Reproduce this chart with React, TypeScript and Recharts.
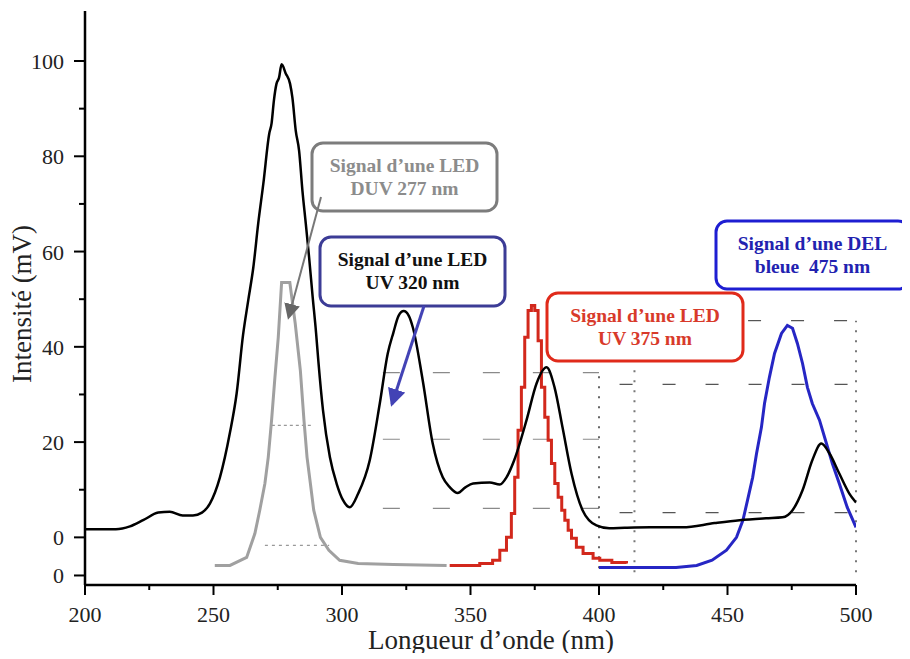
import { LineChart, Line, XAxis, YAxis, ReferenceLine } from "recharts";

const FONT = "'Liberation Serif', 'DejaVu Serif', serif";

// main absorption spectrum (black)
const mainX = [200, 212, 217.5, 222.6, 228.5, 233, 238, 242, 245.5, 248.6, 252.5, 256.4, 259, 261.5, 263.5, 265.5, 267.4, 269.4, 271.7, 272.6, 273.5, 274.5, 275.5, 276.5, 278.1, 279.8, 280.7, 282, 283.3, 284.6, 285.9, 287.2, 288.6, 289.9, 290.8, 292.6, 295.3, 297.9, 300.4, 303, 306.3, 310.8, 314.7, 317.8, 320, 322, 324, 326, 327.6, 331.4, 335.3, 339.2, 342, 345, 348, 351, 357.5, 361.4, 364, 367, 371.8, 375.7, 379.6, 382.7, 385.8, 389.3, 393.6, 399, 404, 410, 420, 432.5, 445, 454.7, 465, 471.4, 475.3, 479.2, 483, 486.5, 489.7, 493.5, 497.4, 500];
const mainY = [1.7, 1.7, 2.3, 3.6, 5.2, 5.4, 4.6, 4.6, 5.2, 7.1, 12.6, 22, 30.2, 42.5, 49.7, 56.7, 65.9, 74.3, 84.8, 86.9, 91.7, 95.2, 96.5, 99.3, 97.4, 95.2, 92.3, 85.4, 81.2, 72.8, 65.9, 58.8, 50.4, 43, 37, 26.7, 16.8, 11.3, 7.8, 6.3, 9.2, 16.2, 28.1, 38.6, 43, 46.5, 47.5, 46.5, 44, 33, 19.7, 12.6, 10.5, 9.3, 10.5, 11.3, 11.5, 11.1, 12.6, 16.2, 24.6, 32.3, 35.7, 31.5, 23.1, 13.4, 5.7, 2.5, 1.9, 2, 2.1, 2.1, 3, 3.6, 4, 4.2, 5.7, 9.9, 16.2, 19.7, 17.6, 13.4, 9.2, 7.3];

// LED DUV 277 nm (grey)
const duvX = [250.5, 256.4, 262.9, 266.1, 268, 270, 271.3, 272.6, 273.9, 275.2, 276.5, 279.7, 281.8, 283.8, 285.2, 286.4, 287.7, 289, 291.6, 294.9, 299.1, 306.3, 320, 340.7];
const duvY = [-5.9, -5.9, -4.2, 0.8, 5.7, 11.3, 16.8, 24.6, 33.6, 42, 53.5, 53.5, 44.9, 35, 24.6, 16.8, 11.3, 5.7, 0, -2.7, -4.8, -5.5, -5.7, -5.9];

// LED UV 375 nm (red), stepped
const uvX = [341.9, 353.6, 358.6, 361.4, 364, 365.9, 367.2, 368.5, 369.8, 371.1, 372.4, 373.7, 375, 376.3, 377.6, 378.9, 380.2, 381.5, 382.8, 384.1, 385.5, 386.7, 388, 389.3, 391.2, 393.8, 397.7, 400.3, 405, 410.7];
const uvY = [-5.9, -5.5, -4.8, -2.7, 0, 5, 12.6, 22.5, 31.5, 42, 47.6, 48.7, 47.6, 41.3, 31.5, 25.2, 20.4, 15.5, 11.3, 8.4, 5.7, 3.6, 1.5, -0.2, -2.1, -3.4, -4.4, -4.8, -5.3, -5.5];

// DEL bleue 475 nm (blue)
const blueX = [400, 430, 438, 444, 449.6, 453.5, 456, 457.8, 459.8, 461.3, 463.2, 464.4, 466.3, 468.3, 471, 473.3, 475.3, 477.2, 479.2, 481.1, 483, 485.8, 488.5, 490.8, 493.5, 496.6, 500];
const blueY = [-6.3, -6.3, -5.9, -4.8, -2.7, 0, 3.6, 7.8, 12.6, 17.6, 23.1, 28.1, 33.6, 38.6, 42.8, 44.5, 43.9, 40.7, 36.5, 31.5, 28.1, 24.6, 19.7, 15.5, 11.3, 6.3, 2.1];

const xTicks = [200, 225, 250, 275, 300, 325, 350, 375, 400, 425, 450, 475, 500];
const yTicks = [-8, 0, 10, 20, 30, 40, 50, 60, 70, 80, 90, 100];
const yTickLabels: Record<number, string> = { [-8]: "0", 0: "0", 20: "20", 40: "40", 60: "60", 80: "80", 100: "100" };

const zip = (xs: number[], ys: number[]) => xs.map((x, i) => ({ x, y: ys[i] }));

const mainData = zip(mainX, mainY);
const duvData = zip(duvX, duvY);
const uvData = zip(uvX, uvY);
const blueData = zip(blueX, blueY);

// leftover dashed guide lines of the original figure
const greyDashY = [34.6, 20.6, 6.1];
const darkDashY = [32.1, 5.2];

const XTick = (props: any) => {
  const { x, y, payload } = props;
  const v = payload.value;
  const major = v % 50 === 0;
  return (
    <g>
      <line x1={x} x2={x} y1={y} y2={y + (major ? 10 : 5)} stroke="#000" strokeWidth={2} />
      {major && (
        <text x={x} y={y + 37} textAnchor="middle" fill="#222" style={{ fontFamily: FONT, fontSize: 22 }}>
          {v}
        </text>
      )}
    </g>
  );
};

const YTick = (props: any) => {
  const { x, y, payload } = props;
  const v = payload.value;
  const label = yTickLabels[v];
  return (
    <g>
      <line x1={x - (label ? 11 : 6)} x2={x} y1={y} y2={y} stroke="#000" strokeWidth={2} />
      {label && (
        <text x={x - 21} y={y + 8} textAnchor="end" fill="#222" style={{ fontFamily: FONT, fontSize: 22 }}>
          {label}
        </text>
      )}
    </g>
  );
};

const Box = ({ x, y, w, h, stroke, color, lines }: any) => (
  <g>
    <rect x={x} y={y} width={w} height={h} rx={11} fill="#fff" stroke={stroke} strokeWidth={3} />
    {lines.map((t: string, i: number) => (
      <text
        key={i}
        x={x + w / 2}
        y={y + 29 + i * 23}
        textAnchor="middle"
        fill={color}
        style={{ fontFamily: FONT, fontSize: 19.5, fontWeight: "bold", whiteSpace: "pre" }}
      >
        {t}
      </text>
    ))}
  </g>
);

export default function App() {
  return (
    <div style={{ position: "relative", width: 900, height: 645 }}>
      <LineChart width={900} height={645} data={mainData} margin={{ top: 3, right: 52, bottom: 0, left: 0 }}>
        <XAxis
          type="number"
          dataKey="x"
          domain={[200, 500]}
          ticks={xTicks}
          interval={0}
          tick={<XTick />}
          tickLine={false}
          tickSize={0}
          tickMargin={0}
          height={68}
          axisLine={{ stroke: "#000", strokeWidth: 2.5 }}
          allowDataOverflow
        />
        <YAxis
          type="number"
          domain={[-10, 110.5]}
          ticks={yTicks}
          interval={0}
          tick={<YTick />}
          tickLine={false}
          tickSize={0}
          tickMargin={0}
          width={77}
          axisLine={{ stroke: "#000", strokeWidth: 2.5 }}
          allowDataOverflow
        />
        {greyDashY.map((v) => (
          <ReferenceLine
            key={"g" + v}
            segment={[{ x: 315.9, y: v }, { x: 400, y: v }]}
            stroke="#8a8a8a"
            strokeWidth={1.2}
            strokeDasharray="17 33"
          />
        ))}
        {darkDashY.map((v) => (
          <ReferenceLine
            key={"d" + v}
            segment={[{ x: 408, y: v }, { x: 500, y: v }]}
            stroke="#555"
            strokeWidth={1.2}
            strokeDasharray="13 30"
          />
        ))}
        <ReferenceLine segment={[{ x: 458, y: 45.5 }, { x: 500, y: 45.5 }]} stroke="#555" strokeWidth={1.2} strokeDasharray="13 30" />
        <ReferenceLine segment={[{ x: 272.7, y: 23.5 }, { x: 288.3, y: 23.5 }]} stroke="#999" strokeWidth={1.2} strokeDasharray="3 3" />
        <ReferenceLine segment={[{ x: 270, y: -1.7 }, { x: 295, y: -1.7 }]} stroke="#999" strokeWidth={1.2} strokeDasharray="3 4" />
        <ReferenceLine segment={[{ x: 400, y: -6.5 }, { x: 400, y: 35 }]} stroke="#666" strokeWidth={2} strokeDasharray="2 8" />
        <ReferenceLine segment={[{ x: 413.8, y: -7.3 }, { x: 413.8, y: 35.7 }]} stroke="#777" strokeWidth={2} strokeDasharray="2 8" />
        <ReferenceLine segment={[{ x: 500, y: -7.3 }, { x: 500, y: 45.5 }]} stroke="#777" strokeWidth={2} strokeDasharray="2 8" />
        <Line data={duvData} dataKey="y" type="linear" stroke="#a0a0a0" strokeWidth={3} dot={false} isAnimationActive={false} />
        <Line data={uvData} dataKey="y" type="stepAfter" stroke="#d2281c" strokeWidth={3} dot={false} isAnimationActive={false} />
        <Line data={blueData} dataKey="y" type="linear" stroke="#2626c4" strokeWidth={3} dot={false} isAnimationActive={false} />
        <Line data={mainData} dataKey="y" type="monotone" stroke="#000" strokeWidth={2.5} dot={false} isAnimationActive={false} />
      </LineChart>
      <svg
        width={902}
        height={651}
        style={{ position: "absolute", left: 0, top: 0, pointerEvents: "none", overflow: "visible" }}
      >
        <defs>
          <marker id="arrGrey" markerWidth={8} markerHeight={8} refX={6} refY={4} orient="auto" markerUnits="strokeWidth">
            <path d="M0,0 L8,4 L0,8 z" fill="#666" />
          </marker>
          <marker id="arrNavy" markerWidth={6} markerHeight={6} refX={5} refY={3} orient="auto" markerUnits="strokeWidth">
            <path d="M0,0 L6,3 L0,6 z" fill="#4343b5" />
          </marker>
        </defs>
        <text x={23} y={296} transform="rotate(-90 23 296)" textAnchor="middle" fill="#222" style={{ fontFamily: FONT, fontSize: 27 }}>
          Intensité (mV)
        </text>
        <text x={483} y={641} textAnchor="middle" fill="#222" style={{ fontFamily: FONT, fontSize: 27 }}>
          Longueur d’onde (nm)
        </text>
        <Box x={304} y={135} w={185} h={68} stroke="#7c7c7c" color="#8c8c8c" lines={["Signal d’une LED", "DUV 277 nm"]} />
        <Box x={312} y={229} w={185} h={69} stroke="#3c3c96" color="#111" lines={["Signal d’une LED", "UV 320 nm"]} />
        <Box x={539} y={285} w={196} h={68} stroke="#e02a1a" color="#d83a2a" lines={["Signal d’une LED", "UV 375 nm"]} />
        <Box x={708} y={213} w={193} h={68} stroke="#1e1ed2" color="#2222b0" lines={["Signal d’une DEL", "bleue  475 nm"]} />
        <line x1={313} y1={189} x2={281} y2={308} stroke="#777" strokeWidth={2} markerEnd="url(#arrGrey)" />
        <line x1={416} y1={298} x2={384} y2={396} stroke="#4343b5" strokeWidth={3} markerEnd="url(#arrNavy)" />
      </svg>
    </div>
  );
}
